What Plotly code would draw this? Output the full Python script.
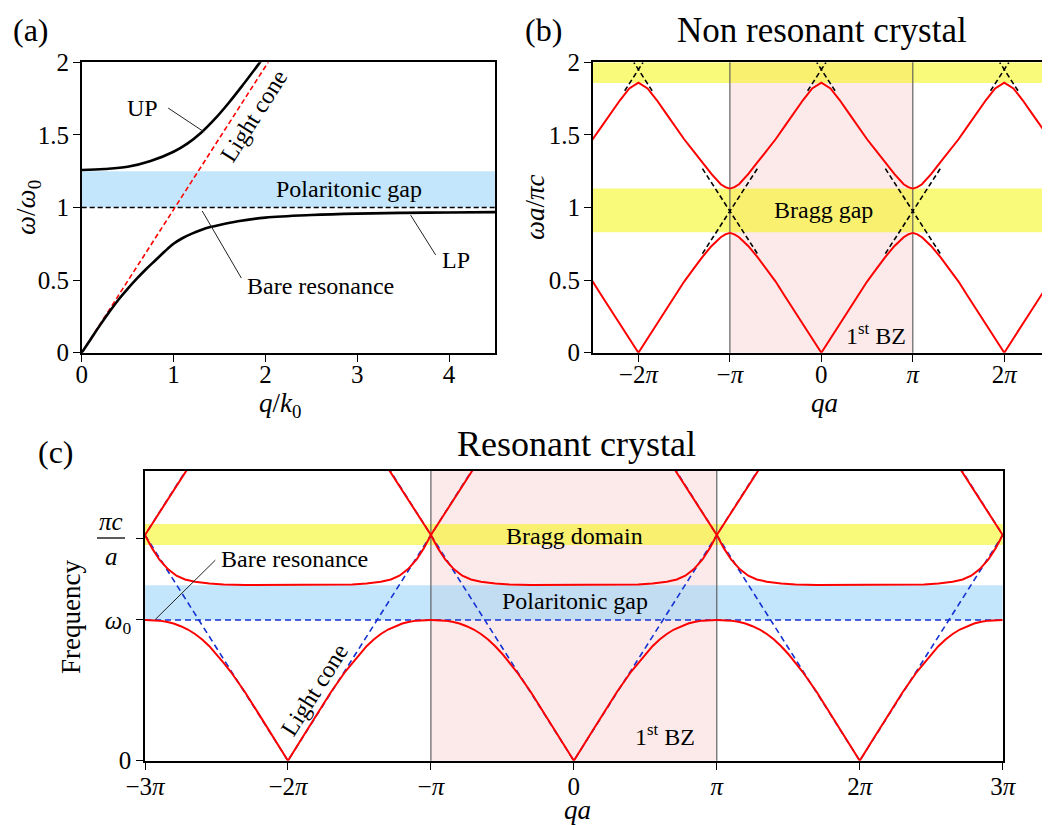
import plotly.graph_objects as go

SERIF = "Liberation Serif"
W, H = 1042, 817      # page has an 8 px body margin inside the 1050 x 825 window
OFF = 8

# ---------------- (a) polariton dispersion, q in units of k0, omega in units of omega0
a_q_lp = [0, 0.1, 0.2, 0.3, 0.4, 0.5, 0.6, 0.7, 0.8, 0.9, 1.0, 1.1, 1.2, 1.3, 1.4, 1.5, 1.7, 2.0, 2.5, 3.0, 3.5, 4.0, 4.5]
a_lp = [0, 0.095, 0.19, 0.28, 0.365, 0.44, 0.51, 0.575, 0.635, 0.695, 0.75, 0.79, 0.82, 0.845, 0.865,
        0.88, 0.905, 0.93, 0.948, 0.958, 0.963, 0.966, 0.968]
a_q_up = [0, 0.25, 0.5, 0.75, 1.0, 1.15, 1.3, 1.45, 1.6, 1.75, 1.9, 2.0]
a_up = [1.258, 1.265, 1.28, 1.32, 1.384, 1.44, 1.515, 1.61, 1.72, 1.84, 1.965, 2.05]
a_cone_q = [0, 2.03]
a_cone = [0, 2.0]
a_bare = 1.0
a_gap = [1.0, 1.25]

# ---------------- (b) non resonant crystal, qa in units of pi, omega a / pi c
b_dist = [0, 0.1, 0.2, 0.3, 0.4, 0.5, 0.6, 0.7, 0.8, 0.9, 0.95, 1.0]   # distance from zone centre
b_lower = [0, 0.098, 0.196, 0.294, 0.39, 0.49, 0.575, 0.66, 0.735, 0.795, 0.815, 0.825]
b_upper = [1.86, 1.82, 1.74, 1.65, 1.56, 1.47, 1.39, 1.31, 1.23, 1.16, 1.14, 1.13]
b_centres = [-2, 0, 2]
b_light_slope = 0.975
b_bragg_gap = [0.83, 1.13]
b_top_gap = [1.857, 2.0]

# ---------------- (c) resonant crystal, qa in units of pi, frequency in units of pi c / a
c_dist_lp = [0, 0.1, 0.2, 0.3, 0.4, 0.45, 0.5, 0.55, 0.6, 0.65, 0.7, 0.75, 0.8, 0.85, 0.9, 1.0]
c_lp = [0, 0.103, 0.206, 0.308, 0.40, 0.44, 0.48, 0.515, 0.545, 0.57, 0.59, 0.605, 0.617, 0.625, 0.63, 0.633]
c_dist_up = [0, 0.3, 0.45, 0.55, 0.65, 0.72, 0.78, 0.84, 0.9, 0.95, 1.0, 1.1, 1.2, 1.3]
c_up = [0.79, 0.79, 0.792, 0.797, 0.805, 0.815, 0.832, 0.862, 0.905, 0.955, 1.015, 1.115, 1.215, 1.315]
c_centres_lp = [-2, 0, 2]
c_centres_up = [-4, -2, 0, 2, 4]
c_w0 = 0.633
c_cross = 1.015
c_gap = [0.633, 0.789]
c_bragg = [0.97, 1.065]
c_top = 1.303

RED = "#ff0000"
BLUE = "rgb(20,50,210)"
YELLOW = "rgba(245,245,0,0.52)"
SKY = "rgba(135,206,250,0.5)"
PINK = "rgba(240,128,128,0.17)"


def px(x):
    return (x - OFF) / W


def py(y):
    return 1 - (y - OFF) / H


def periodic(dist, vals, centres):
    # repeat one branch around every zone centre (mirror + shift)
    xs, ys = [], []
    for c in centres:
        xs += [c - d for d in reversed(dist)] + [c + d for d in dist[1:]]
        ys += list(reversed(vals)) + vals[1:]
        xs.append(None)
        ys.append(None)
    return xs, ys


def line(x, y, color, width, dash="solid", xa="x", ya="y", shape="linear"):
    return go.Scatter(x=x, y=y, mode="lines", xaxis=xa, yaxis=ya, hoverinfo="skip",
                      showlegend=False, line=dict(color=color, width=width, dash=dash, shape=shape))


fig = go.Figure()

# (a)
fig.add_trace(line([0, 4.5], [a_bare, a_bare], "black", 1.6, "5px,3px"))
fig.add_trace(line(a_cone_q, a_cone, RED, 1.6, "5px,3px"))
fig.add_trace(line(a_q_lp, a_lp, "black", 2.6, shape="spline"))
fig.add_trace(line(a_q_up, a_up, "black", 2.6, shape="spline"))

# (b) dashed bare light lines near the crossings
dx, dy = [], []
for c in [-1, 1]:
    y0 = b_light_slope
    for s in [1, -1]:
        dx += [c - 0.3, c + 0.3, None]
        dy += [y0 - s * 0.3 * b_light_slope, y0 + s * 0.3 * b_light_slope, None]
for c in b_centres:
    y0 = 2 * b_light_slope
    for s in [1, -1]:
        dx += [c - s * 0.15, c + s * 0.05, None]
        dy += [y0 - 0.15 * b_light_slope, y0 + 0.05 * b_light_slope, None]
fig.add_trace(line(dx, dy, "black", 1.6, "5px,3px", "x2", "y2"))
bx, by = periodic(b_dist, b_lower, b_centres)
fig.add_trace(line(bx, by, RED, 2.0, xa="x2", ya="y2"))
bx, by = periodic(b_dist, b_upper, b_centres)
fig.add_trace(line(bx, by, RED, 2.0, xa="x2", ya="y2"))

# (c)
lx, ly = [], []
for c in c_centres_up:
    lx += [c - 1.3, c, c + 1.3, None]
    ly += [1.3 * c_cross, 0, 1.3 * c_cross, None]
fig.add_trace(line(lx, ly, BLUE, 1.6, "6px,4px", "x3", "y3"))
fig.add_trace(line([-3, 3], [c_w0, c_w0], BLUE, 1.6, "6px,4px", "x3", "y3"))
cx, cy = periodic(c_dist_lp, c_lp, c_centres_lp)
fig.add_trace(line(cx, cy, RED, 2.0, xa="x3", ya="y3"))
cx, cy = periodic(c_dist_up, c_up, c_centres_up)
fig.add_trace(line(cx, cy, RED, 2.0, xa="x3", ya="y3"))

# background bands
shapes = [
    dict(type="rect", xref="x domain", yref="y", x0=0, x1=1, y0=a_gap[0], y1=a_gap[1],
         fillcolor=SKY, line_width=0, layer="below"),
    dict(type="rect", xref="x2", yref="y2 domain", x0=-1, x1=1, y0=0, y1=1,
         fillcolor=PINK, line_width=0, layer="below"),
    dict(type="rect", xref="x2 domain", yref="y2", x0=0, x1=1, y0=b_bragg_gap[0], y1=b_bragg_gap[1],
         fillcolor=YELLOW, line_width=0, layer="below"),
    dict(type="rect", xref="x2 domain", yref="y2", x0=0, x1=1, y0=b_top_gap[0], y1=b_top_gap[1],
         fillcolor=YELLOW, line_width=0, layer="below"),
    dict(type="rect", xref="x3", yref="y3 domain", x0=-1, x1=1, y0=0, y1=1,
         fillcolor=PINK, line_width=0, layer="below"),
    dict(type="rect", xref="x3 domain", yref="y3", x0=0, x1=1, y0=c_bragg[0], y1=c_bragg[1],
         fillcolor=YELLOW, line_width=0, layer="below"),
    dict(type="rect", xref="x3 domain", yref="y3", x0=0, x1=1, y0=c_gap[0], y1=c_gap[1],
         fillcolor=SKY, line_width=0, layer="below"),
]
for xr, yr in [("x2", "y2 domain"), ("x3", "y3 domain")]:
    for v in [-1, 1]:
        shapes.append(dict(type="line", xref=xr, yref=yr, x0=v, x1=v, y0=0, y1=1,
                           line=dict(color="#555555", width=1.1), layer="below"))

# leader lines
for xr, yr, x0, y0, x1, y1 in [("x", "y", 0.941, 1.685, 1.334, 1.52),
                               ("x", "y", 1.738, 0.514, 1.312, 0.976),
                               ("x", "y", 3.854, 0.673, 3.581, 0.948),
                               ("x3", "y3", -2.508, 0.902, -2.927, 0.636)]:
    shapes.append(dict(type="line", xref=xr, yref=yr, x0=x0, y0=y0, x1=x1, y1=y1,
                       line=dict(color="#222222", width=1)))
# fraction bar of pi c / a tick label
shapes.append(dict(type="line", xref="paper", yref="paper", x0=px(97), x1=px(125), y0=py(538), y1=py(538),
                   line=dict(color="black", width=1.3)))

TXT = 24


def note(text, x, y, xr="x", yr="y", size=TXT, angle=0, xanchor="center"):
    return dict(text=text, x=x, y=y, xref=xr, yref=yr, showarrow=False, textangle=angle,
                xanchor=xanchor, yanchor="middle", font=dict(family=SERIF, size=size, color="black"))


def pnote(text, x, y, size, angle=0):
    return note(text, px(x), py(y), "paper", "paper", size, angle)


annotations = [
    note("UP", 0.657, 1.685),
    note("Light cone", 1.872, 1.632, angle=-57.7),
    note("Polaritonic gap", 2.909, 1.127),
    note("Bare resonance", 2.6, 0.461),
    note("LP", 4.07, 0.638),
    note("Bragg gap", 0.02, 0.98, "x2", "y2"),
    note("1<sup>st</sup> BZ", 0.95, 0.13, "x2", "y2", xanchor="right"),
    note("Bragg domain", 0.005, 1.012, "x3", "y3"),
    note("Polaritonic gap", 0.01, 0.718, "x3", "y3"),
    note("Bare resonance", -1.951, 0.906, "x3", "y3"),
    note("Light cone", -1.815, 0.318, "x3", "y3", angle=-57.6),
    note("1<sup>st</sup> BZ", 0.862, 0.116, "x3", "y3", xanchor="right"),
    # titles and panel labels
    pnote("Non resonant crystal", 821.6, 30, 35),
    pnote("Resonant crystal", 576, 444, 36),
    pnote("(a)", 31, 30, 32),
    pnote("(b)", 543, 30, 32),
    pnote("(c)", 56, 452, 32),
    # axis titles
    pnote("<i>ω</i>/<i>ω</i><sub>0</sub>", 28, 208, 27, -90),
    pnote("<i>q</i>/<i>k</i><sub>0</sub>", 280, 405, 27),
    pnote("<i>ωa</i>/<i>πc</i>", 535, 207, 27, -90),
    pnote("<i>qa</i>", 824, 403, 27),
    pnote("Frequency", 71, 617, 27, -90),
    pnote("<i>qa</i>", 577, 810, 27),
    # pi c / a tick label
    pnote("<i>πc</i>", 111, 521, 25),
    pnote("<i>a</i>", 111, 556, 25),
]

axis = dict(showline=True, linecolor="black", linewidth=1.6, mirror=True, ticks="outside",
            ticklen=7, tickwidth=1.3, tickcolor="black", showgrid=False, zeroline=False,
            automargin=False, tickfont=dict(family=SERIF, size=25, color="black"))
pi_ticks_b = ["−2<i>π</i>", "−<i>π</i>", "0", "<i>π</i>", "2<i>π</i>"]
pi_ticks_c = ["−3<i>π</i>", "−2<i>π</i>", "−<i>π</i>", "0", "<i>π</i>", "2<i>π</i>", "3<i>π</i>"]

fig.update_layout(
    width=W, height=H, margin=dict(l=0, r=0, t=0, b=0, autoexpand=False),
    paper_bgcolor="white", plot_bgcolor="white",
    xaxis=dict(axis, domain=[px(81.7), px(495)], range=[0, 4.5], anchor="y",
               tickvals=[0, 1, 2, 3, 4], ticklabelstandoff=-9),
    yaxis=dict(axis, domain=[py(352.7), py(62.3)], range=[0, 2], anchor="x",
               tickvals=[0, 0.5, 1, 1.5, 2], ticktext=["0", "0.5", "1", "1.5", "2"],
               ticklabelstandoff=-1),
    xaxis2=dict(axis, domain=[px(592.7), 1.0], range=[-2.5, 2.5], anchor="y2",
                tickvals=[-2, -1, 0, 1, 2], ticktext=pi_ticks_b, ticklabelstandoff=-9),
    yaxis2=dict(axis, domain=[py(352.7), py(62.3)], range=[0, 2], anchor="x2", mirror=False,
                tickvals=[0, 0.5, 1, 1.5, 2], ticktext=["0", "0.5", "1", "1.5", "2"],
                ticklabelstandoff=-1),
    xaxis3=dict(axis, domain=[px(145), px(1002.7)], range=[-3, 3], anchor="y3",
                tickvals=[-3, -2, -1, 0, 1, 2, 3], ticktext=pi_ticks_c, ticklabelstandoff=-5),
    yaxis3=dict(axis, domain=[py(760.7), py(471)], range=[0, c_top], anchor="x3",
                tickvals=[0, c_w0, 1.0], ticktext=["0", "<i>ω</i><sub>0</sub>", ""],
                ticklabelstandoff=0),
    shapes=shapes,
    annotations=annotations,
)

fig.write_html("out.html")
